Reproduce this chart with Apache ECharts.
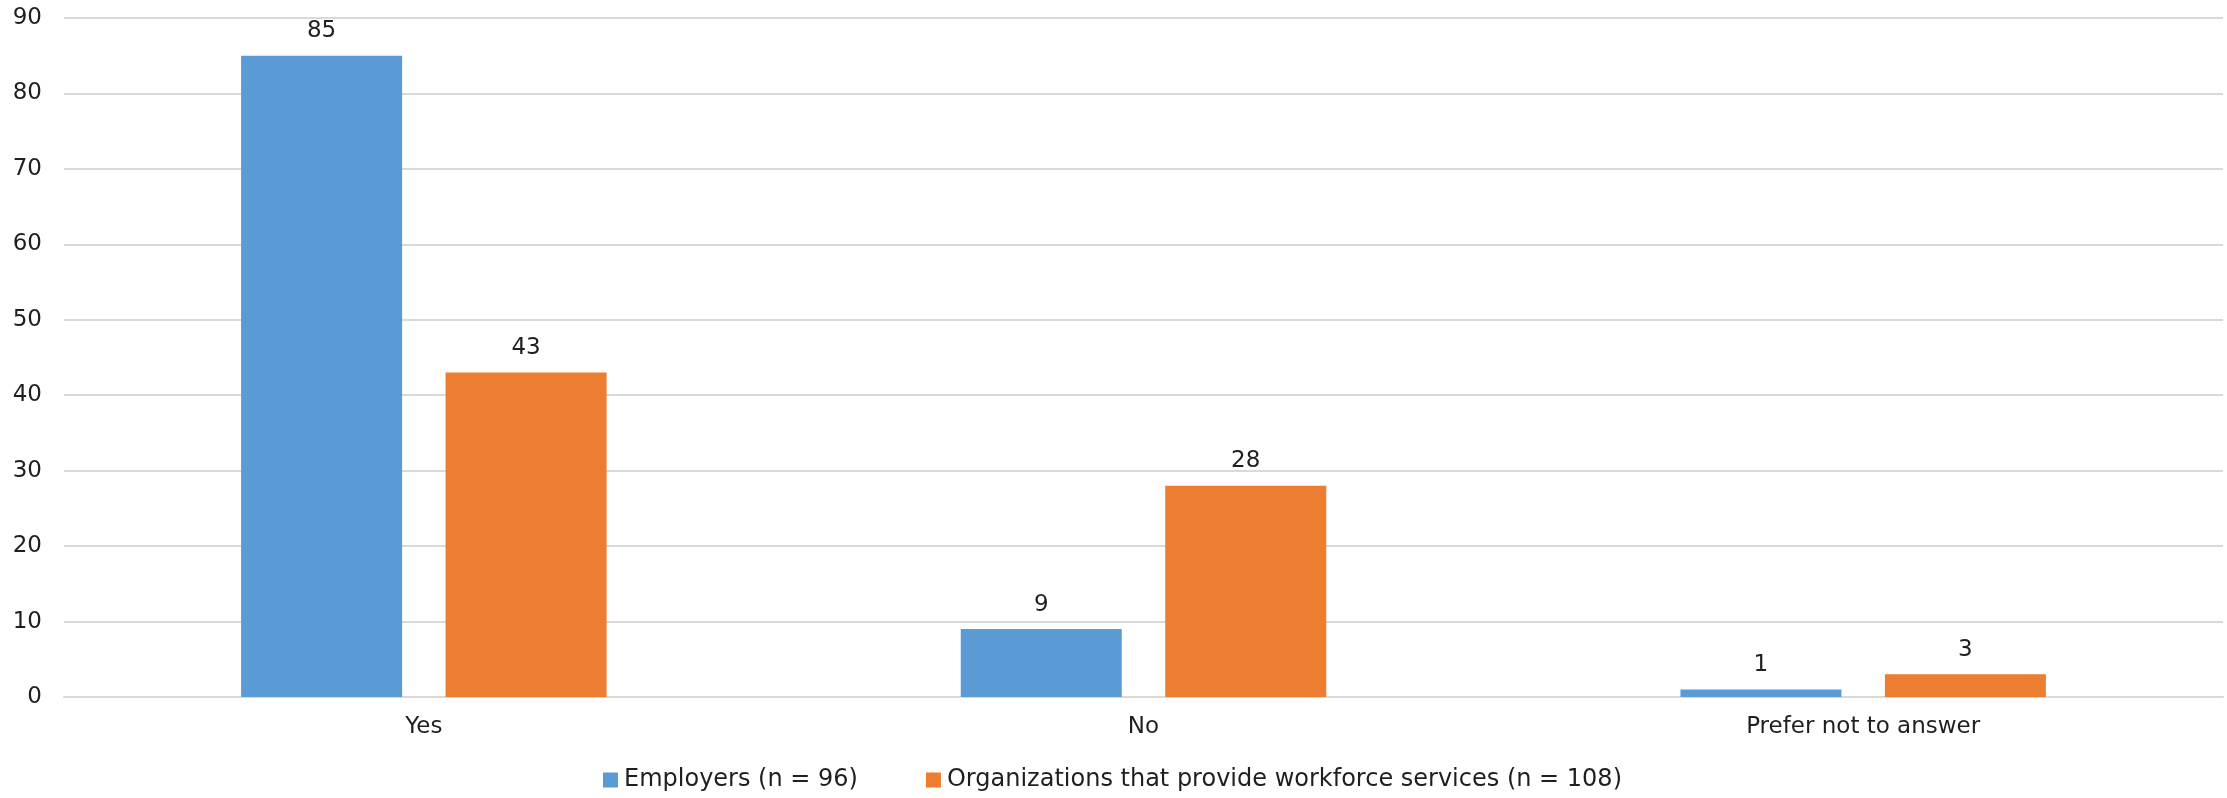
<!DOCTYPE html>
<html>
<head>
<meta charset="utf-8">
<script src="https://cdn.jsdelivr.net/npm/echarts@6/dist/echarts.min.js"></script>
<style>
  html, body { margin: 0; padding: 0; background: #ffffff; }
  #chart { width: 2227px; height: 798px; }
</style>
</head>
<body>
<div id="chart"></div>
<script>
// Survey responses by group
const categories = ['Yes', 'No', 'Prefer not to answer'];
const employers = [85, 9, 1];
const workforceOrgs = [43, 28, 3];
const seriesNames = ['Employers (n = 96)', 'Organizations that provide workforce services (n = 108)'];
const yTicks = { min: 0, max: 90, interval: 10 };

const FONT = '"Century Gothic", "DejaVu Sans", sans-serif';
const TEXT = '#1f1f1f';

const chart = echarts.init(document.getElementById('chart'), null, { renderer: 'canvas' });

const valueLabel = {
  show: true,
  position: 'top',
  distance: 13,
  color: TEXT,
  fontFamily: FONT,
  fontSize: 23
};

chart.setOption({
  animation: false,
  backgroundColor: '#ffffff',
  textStyle: { fontFamily: FONT },
  grid: { left: 64, right: 4, top: 18, bottom: 101, containLabel: false },
  legend: {
    data: seriesNames,
    bottom: 1,
    left: 598,
    itemWidth: 15,
    itemHeight: 15,
    itemGap: 68,
    icon: 'rect',
    textStyle: { color: TEXT, fontFamily: FONT, fontSize: 24, padding: [0, 0, 0, 1] }
  },
  xAxis: {
    type: 'category',
    data: categories,
    axisLine: { show: true, lineStyle: { color: '#d9d9d9', width: 2 } },
    axisTick: { show: false },
    axisLabel: { color: TEXT, fontFamily: FONT, fontSize: 23, margin: 19 }
  },
  yAxis: {
    type: 'value',
    min: yTicks.min,
    max: yTicks.max,
    interval: yTicks.interval,
    axisLine: { show: false },
    axisTick: { show: false },
    axisLabel: { color: TEXT, fontFamily: FONT, fontSize: 23, margin: 22 },
    splitLine: { lineStyle: { color: '#d9d9d9', width: 2 } }
  },
  series: [
    {
      name: seriesNames[0],
      type: 'bar',
      data: employers,
      barWidth: 161,
      barGap: '27%',
      itemStyle: { color: '#5b9bd5' },
      label: valueLabel
    },
    {
      name: seriesNames[1],
      type: 'bar',
      data: workforceOrgs,
      barWidth: 161,
      itemStyle: { color: '#ed7d31' },
      label: valueLabel
    }
  ]
});
</script>
</body>
</html>
